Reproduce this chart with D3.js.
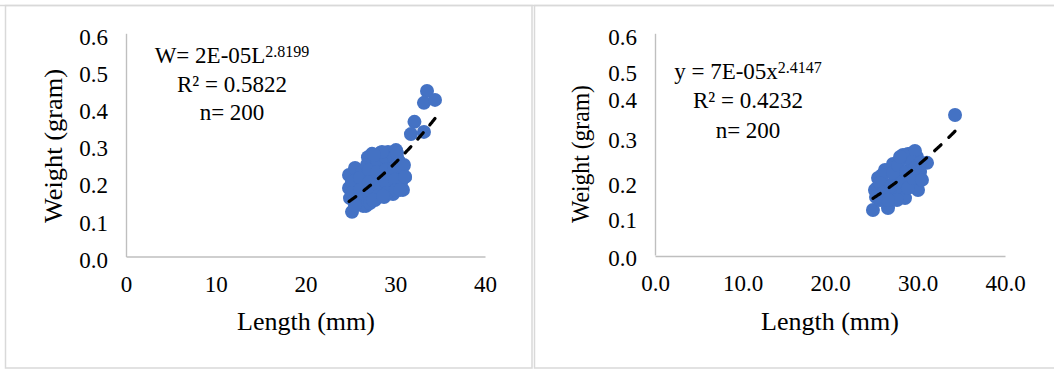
<!DOCTYPE html>
<html>
<head>
<meta charset="utf-8">
<script src="https://cdn.jsdelivr.net/npm/d3@7/dist/d3.min.js"></script>
<style>
  html, body { margin: 0; padding: 0; background: #fff; }
  svg { display: block; font-family: "Liberation Serif", "Times New Roman", serif; }
  .tick-label { font-family: "Liberation Serif", "Times New Roman", serif; font-size: 23px; }
</style>
</head>
<body>
<svg id="chart" width="1054" height="369"></svg>
<script>
// ---- data: length (mm) and weight (g) per fish ----
const leftLength = [24.85, 24.85, 24.96, 25.18, 25.52, 25.63, 25.74, 25.85, 26.30, 26.41,
  26.52, 26.74, 26.96, 26.85, 27.41, 27.41, 27.52, 27.63, 27.74, 28.30,
  28.41, 28.52, 28.64, 28.75, 29.19, 29.42, 29.53, 29.64, 29.75, 30.08,
  30.31, 30.53, 30.64, 30.86, 30.97, 31.09, 27.00, 28.00, 29.00, 26.20,
  25.18, 25.18, 26.07, 26.07, 26.07, 26.41, 25.52, 27.07, 27.07, 27.07,
  27.19, 27.97, 27.97, 27.97, 28.08, 27.52, 28.97, 28.97, 28.97, 29.08,
  28.64, 29.86, 29.86, 29.97, 30.08, 30.31, 30.86, 31.09, 30.53, 30.19,
  28.52, 27.63,
  33.54, 33.20, 34.43, 32.14, 31.75, 33.20];
const leftWeight = [0.219, 0.184, 0.157, 0.120, 0.238, 0.206, 0.173, 0.144, 0.227, 0.192,
  0.160, 0.136, 0.267, 0.246, 0.276, 0.246, 0.211, 0.179, 0.152, 0.278,
  0.246, 0.216, 0.184, 0.160, 0.281, 0.251, 0.219, 0.187, 0.168, 0.286,
  0.259, 0.227, 0.198, 0.179, 0.246, 0.214, 0.200, 0.230, 0.240, 0.180,
  0.200, 0.171, 0.211, 0.179, 0.152, 0.136, 0.138, 0.233, 0.200, 0.168,
  0.144, 0.259, 0.227, 0.195, 0.163, 0.152, 0.265, 0.233, 0.200, 0.171,
  0.163, 0.267, 0.238, 0.206, 0.179, 0.259, 0.241, 0.214, 0.179, 0.278,
  0.281, 0.273,
  0.445, 0.413, 0.421, 0.362, 0.329, 0.335];

const rightLength = [24.91, 26.63, 25.37, 25.49, 26.29, 27.20, 26.51, 27.43, 28.00, 28.57,
  28.00, 28.57, 29.37, 29.94, 29.14, 29.71, 30.06, 31.09, 30.29, 26.86,
  25.94, 28.91, 29.71, 28.34, 25.94, 25.14,
  25.71, 26.17, 26.97, 27.20, 27.77, 28.23, 28.69, 28.91, 29.37, 29.49,
  30.29, 30.51, 27.66, 25.71, 26.63, 25.26, 29.71, 28.00,
  34.29];
const rightWeight = [0.124, 0.129, 0.183, 0.210, 0.232, 0.248, 0.191, 0.205, 0.178, 0.156,
  0.226, 0.264, 0.277, 0.267, 0.232, 0.205, 0.178, 0.251, 0.226, 0.164,
  0.159, 0.275, 0.283, 0.272, 0.218, 0.178,
  0.197, 0.172, 0.189, 0.224, 0.245, 0.199, 0.226, 0.183, 0.253, 0.210,
  0.251, 0.205, 0.151, 0.151, 0.151, 0.159, 0.237, 0.267,
  0.380];

// power-law fits W = a * L^b
const leftFit = [1.72e-5, 2.8199];
const rightFit = [6.6e-5, 2.4147];

const xTicks = [0, 10, 20, 30, 40];
const yTicks = [0, 0.1, 0.2, 0.3, 0.4, 0.5, 0.6];

const leftNote = ["W= 2E-05L", "R\u00B2 = 0.5822", "n= 200"];
const rightNote = ["y = 7E-05x", "R\u00B2 = 0.4232", "n= 200"];

const svg = d3.select("#chart");
const FRAME = "#d9d9d9", AXIS = "#bfbfbf", DOT = "#4472C4";

// chart frames
svg.append("line").attr("x1", 0).attr("x2", 1054).attr("y1", 5.5).attr("y2", 5.5)
  .attr("stroke", FRAME).attr("stroke-width", 1.5);
svg.append("rect").attr("x", 5.5).attr("y", 5.5).attr("width", 526.5).attr("height", 362.5)
  .attr("fill", "none").attr("stroke", FRAME).attr("stroke-width", 1.5);
svg.append("rect").attr("x", 534.5).attr("y", 5.5).attr("width", 540).attr("height", 362.5)
  .attr("fill", "none").attr("stroke", FRAME).attr("stroke-width", 1.5);

function panel(opt) {
  const g = svg.append("g");
  const x = d3.scaleLinear().domain([0, 40]).range(opt.xRange);
  const y = d3.scaleLinear().domain([0, 0.6]).range(opt.yRange);
  const yAxisScale = d3.scaleLinear().domain(yTicks).range(opt.yTickPos);

  // y axis
  const ya = g.append("g").attr("transform", `translate(${opt.xRange[0]},0)`)
    .call(d3.axisLeft(yAxisScale).tickValues(yTicks).tickSize(0).tickSizeOuter(0)
      .tickPadding(18).tickFormat(d3.format(".1f")));
  ya.attr("font-family", null).attr("font-size", null);
  ya.select(".domain").attr("stroke", AXIS).attr("stroke-width", 1.4);
  ya.selectAll("text").attr("class", "tick-label").attr("fill", "#000").attr("dy", "0.47em");

  // x axis
  const xa = g.append("g").attr("transform", `translate(0,${opt.yRange[0]})`)
    .call(d3.axisBottom(x).tickValues(xTicks).tickSize(0).tickSizeOuter(0)
      .tickPadding(19).tickFormat(d3.format(opt.xFormat)));
  xa.attr("font-family", null).attr("font-size", null);
  xa.select(".domain").attr("stroke", AXIS).attr("stroke-width", 1.4);
  xa.selectAll("text").attr("class", "tick-label").attr("fill", "#000");

  // points
  g.append("g").selectAll("circle")
    .data(opt.L.map((l, i) => [l, opt.W[i]]))
    .join("circle")
    .attr("cx", d => x(d[0])).attr("cy", d => y(d[1])).attr("r", 7)
    .attr("fill", DOT);

  // power trendline over the data range; dash period fitted so both ends carry a dash
  const [lo, hi] = d3.extent(opt.L);
  const pts = d3.range(lo, hi, 0.05).concat([hi]).map(l => [l, opt.fit[0] * Math.pow(l, opt.fit[1])]);
  const trend = g.append("path").datum(pts)
    .attr("d", d3.line().x(d => x(d[0])).y(d => y(d[1])))
    .attr("fill", "none").attr("stroke", "#000").attr("stroke-width", 3.2)
    .attr("stroke-linecap", "round");
  const len = trend.node().getTotalLength();
  const n = Math.max(1, Math.round((len - 9) / 20));
  const period = len / (n + 0.45);
  trend.attr("stroke-dasharray", `${(0.45 * period).toFixed(2)},${(0.55 * period).toFixed(2)}`);

  // equation block
  const note = g.append("g").style("font-size", "23px").attr("fill", "#000").attr("text-anchor", "middle");
  const t1 = note.append("text").attr("x", opt.noteX).attr("y", opt.noteY[0]);
  t1.append("tspan").text(opt.note[0]);
  t1.append("tspan").style("font-size", "16px").attr("dy", -6.5).text(opt.fit[1].toFixed(4));
  note.append("text").attr("x", opt.noteX).attr("y", opt.noteY[1]).text(opt.note[1]);
  note.append("text").attr("x", opt.noteX).attr("y", opt.noteY[2]).text(opt.note[2]);

  // axis titles
  g.append("text").attr("x", opt.xTitle[0]).attr("y", opt.xTitle[1])
    .attr("text-anchor", "middle").style("font-size", "26px").attr("fill", "#000")
    .text("Length (mm)");
  g.append("text")
    .attr("transform", `translate(${opt.yTitle[0]},${opt.yTitle[1]}) rotate(-90)`)
    .attr("text-anchor", "middle").style("font-size", "26px").attr("fill", "#000")
    .attr("textLength", opt.yTitle[2]).attr("lengthAdjust", "spacingAndGlyphs")
    .text("Weight (gram)");
}

panel({
  xRange: [126, 485], yRange: [256.5, 33.3],
  yTickPos: [256.5, 219.3, 182.1, 144.9, 107.7, 70.5, 33.3],
  xFormat: "d", L: leftLength, W: leftWeight, fit: leftFit,
  note: leftNote, noteX: 232, noteY: [63, 92, 120],
  xTitle: [306, 330], yTitle: [62, 146, 154]
});

panel({
  xRange: [655, 1005], yRange: [256, 33.3],
  yTickPos: [255, 216.6, 181.6, 136.6, 96.6, 69.6, 33.3],
  xFormat: ".1f", L: rightLength, W: rightWeight, fit: rightFit,
  note: rightNote, noteX: 748, noteY: [79, 108, 138],
  xTitle: [830, 330], yTitle: [589, 154, 138]
});
</script>
</body>
</html>
